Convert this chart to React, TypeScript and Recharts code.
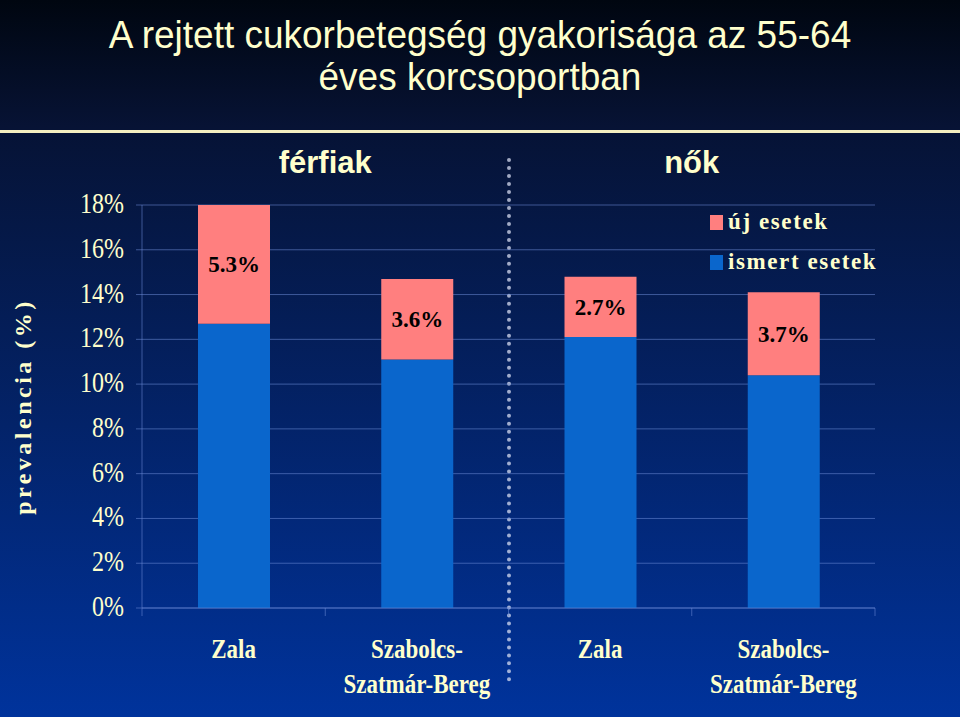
import React from 'react';
import { BarChart, Bar, XAxis, YAxis, CartesianGrid, LabelList } from 'recharts';

// regions, split in two sex groups (férfiak | nők)
const regions = ['Zala', 'Szabolcs-|Szatmár-Bereg', 'Zala', 'Szabolcs-|Szatmár-Bereg'];
const knownCases = [12.7, 11.1, 12.1, 10.4]; // ismert esetek
const newCases = [5.3, 3.6, 2.7, 3.7]; // új esetek
const yTicks = [0, 2, 4, 6, 8, 10, 12, 14, 16, 18];
const groups = ['férfiak', 'nők'];

const W = 960;
const H = 717;
const M = { top: 205, right: 85, left: 0, bottom: 0 };
const Y_W = 142;
const X_H = 109;
const BAND = (W - Y_W - M.right) / regions.length;

const CREAM = '#FFFFCC';
const PINK = '#FF7F7F';
const BLUE = '#0A66CC';
const GRID = 'rgba(110,140,215,0.55)';
const SERIF = '"Liberation Serif", "Times New Roman", serif';
const SANS = '"Liberation Sans", Arial, sans-serif';

const data = regions.map((r, i) => ({
  region: r,
  known: knownCases[i],
  fresh: newCases[i],
}));

const RegionTick = (props: any) => {
  const { x, y, payload, index } = props;
  const lines = String(payload.value).split('|');
  const last = index === regions.length - 1;
  return (
    <g>
      <line x1={x - BAND / 2} x2={x - BAND / 2} y1={y} y2={y + 8} stroke={GRID} />
      {last && <line x1={x + BAND / 2} x2={x + BAND / 2} y1={y} y2={y + 8} stroke={GRID} />}
      {lines.map((l, i) => (
        <g key={i} transform={`translate(${x},${y + 50 + i * 35}) scale(1,1.2)`}>
          <text textAnchor="middle" fill={CREAM} fontFamily={SERIF} fontWeight="bold" fontSize={23}>
            {l}
          </text>
        </g>
      ))}
    </g>
  );
};

const PctTick = (props: any) => {
  const { x, y, payload } = props;
  return (
    <g transform={`translate(${x},${y + 8}) scale(1,1.2)`}>
      <text textAnchor="end" fill={CREAM} fontFamily={SERIF} fontSize={24}>
        {payload.value}%
      </text>
    </g>
  );
};

const legendItems = [
  { label: 'új esetek', color: PINK },
  { label: 'ismert esetek', color: BLUE },
];

export default function App() {
  return (
    <div
      style={{
        position: 'absolute',
        left: 0,
        top: 0,
        width: W,
        height: H,
        overflow: 'hidden',
        background: 'linear-gradient(180deg, #000610 0px, #071335 128px, #061336 134px, #00339C 717px)',
      }}
    >
      <div style={{ position: 'absolute', left: 0, top: 130, width: W, height: 3, background: '#F4EFC0' }} />
      <div
        style={{
          position: 'absolute',
          left: 0,
          top: 16,
          width: W,
          textAlign: 'center',
          color: CREAM,
          fontFamily: SANS,
          fontSize: 37,
          lineHeight: '40px',
          transform: 'scaleY(1.05)',
        }}
      >
        A rejtett cukorbetegség gyakorisága az 55-64
        <br />
        éves korcsoportban
      </div>
      {groups.map((g, i) => (
        <div
          key={g}
          style={{
            position: 'absolute',
            left: Y_W + BAND * (i * 2 + 1) - 100,
            top: 145,
            width: 200,
            textAlign: 'center',
            color: CREAM,
            fontFamily: SANS,
            fontWeight: 'bold',
            fontSize: 31,
          }}
        >
          {g}
        </div>
      ))}
      <div
        style={{
          position: 'absolute',
          left: Y_W + BAND * 2 - 2,
          top: 158,
          height: 524,
          borderLeft: '4px dotted rgba(215,220,240,0.75)',
        }}
      />
      <div style={{ position: 'absolute', left: 710, top: 202 }}>
        {legendItems.map((it) => (
          <div key={it.label} style={{ display: 'flex', alignItems: 'center', height: 40 }}>
            <span style={{ width: 13, height: 15, background: it.color, marginRight: 5, display: 'inline-block' }} />
            <span style={{ color: CREAM, fontFamily: SERIF, fontWeight: 'bold', fontSize: 23, letterSpacing: 1.6 }}>
              {it.label}
            </span>
          </div>
        ))}
      </div>
      <div style={{ position: 'absolute', left: 0, top: 0 }}>
        <BarChart width={W} height={H} data={data} margin={M} barSize={72}>
          <CartesianGrid vertical={false} stroke={GRID} />
          <XAxis
            dataKey="region"
            height={X_H}
            stroke={GRID}
            tickLine={false}
            tickSize={0}
            tickMargin={0}
            tick={<RegionTick />}
            interval={0}
          />
          <YAxis
            width={Y_W}
            domain={[0, 18]}
            ticks={yTicks}
            stroke={GRID}
            tickSize={6}
            tickMargin={12}
            tick={<PctTick />}
            label={{
              value: 'prevalencia (%)',
              angle: -90,
              position: 'insideLeft',
              offset: 22,
              textAnchor: 'middle',
              fill: CREAM,
              fontFamily: SERIF,
              fontWeight: 'bold',
              fontSize: 24,
              letterSpacing: 3.5,
            }}
          />
          <Bar dataKey="known" name="ismert esetek" stackId="a" fill={BLUE} isAnimationActive={false} />
          <Bar dataKey="fresh" name="új esetek" stackId="a" fill={PINK} isAnimationActive={false}>
            <LabelList
              dataKey="fresh"
              position="center"
              formatter={(v: any) => `${v}%`}
              fill="#000"
              fontFamily={SERIF}
              fontWeight="bold"
              fontSize={23}
            />
          </Bar>
        </BarChart>
      </div>
    </div>
  );
}
